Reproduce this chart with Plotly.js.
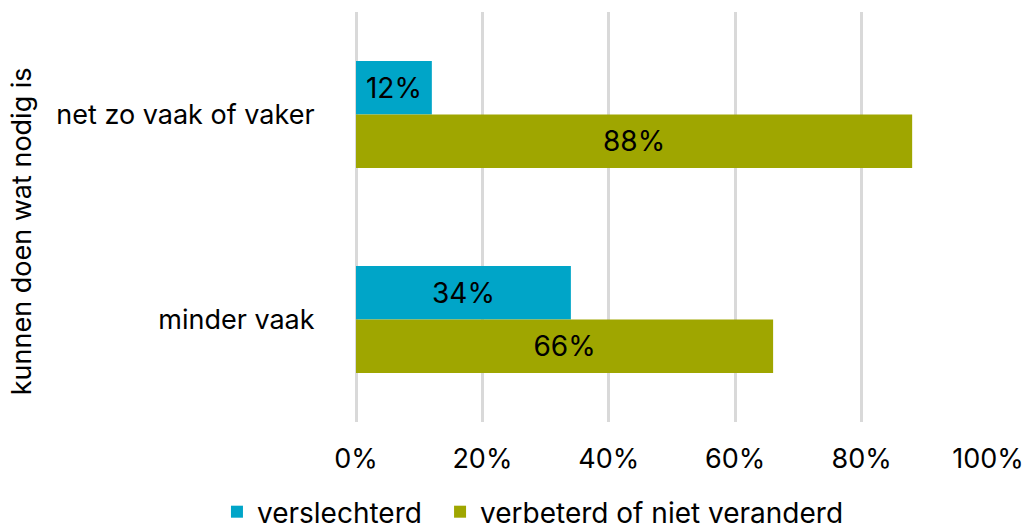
<!DOCTYPE html>
<html>
<head>
<meta charset="utf-8">
<script src="https://cdn.plot.ly/plotly-3.0.1.min.js"></script>
<style>html,body{margin:0;padding:0;background:#fff;}#chart{width:1030px;height:530px;}</style>
</head>
<body>
<div id="chart"></div>
<script>
const categories = ["net zo vaak of vaker", "minder vaak"];
const seriesNames = ["verslechterd", "verbeterd of niet veranderd"];
const verslechterd = [12, 34];
const verbeterd = [88, 66];
const xTicks = [0, 20, 40, 60, 80, 100];
const xTickLabels = ["0%", "20%", "40%", "60%", "80%", "100%"];
const yTitle = "kunnen doen wat nodig is";
const colors = ["#00A5C8", "#9FA600"];

const FONT = "Inter, 'Noto Sans', Arial, sans-serif";
const legendIds = ["legend", "legend2"];

const traces = [verslechterd, verbeterd].map((vals, i) => ({
  type: "bar",
  orientation: "h",
  name: seriesNames[i],
  legend: legendIds[i],
  y: categories,
  x: vals,
  marker: {color: colors[i]},
  text: vals.map(v => v + "%"),
  textposition: "inside",
  insidetextanchor: "middle",
  constraintext: "none",
  textfont: {family: FONT, size: 28, color: "#000"},
  hoverinfo: "none"
}));

const legendBase = {
  orientation: "h",
  yanchor: "middle",
  y: -0.2195,
  xanchor: "left",
  font: {family: FONT, size: 28, color: "#000"},
  itemclick: false, itemdoubleclick: false,
  bgcolor: "rgba(0,0,0,0)"
};

const layout = {
  width: 1030, height: 530,
  margin: {l: 356, r: 42, t: 12, b: 108, autoexpand: false},
  paper_bgcolor: "#fff", plot_bgcolor: "#fff",
  barmode: "group",
  bargap: 0.478,
  bargroupgap: 0,
  font: {family: FONT, color: "#000"},
  xaxis: {
    range: [0, 100],
    tickmode: "array",
    tickvals: xTicks,
    ticktext: xTickLabels,
    showgrid: true, gridcolor: "#D9D9D9", gridwidth: 3,
    zeroline: true, zerolinecolor: "#D9D9D9", zerolinewidth: 3,
    showline: false,
    ticks: "outside", ticklen: 13, tickcolor: "rgba(0,0,0,0)",
    tickfont: {family: FONT, size: 27, color: "#000"},
    fixedrange: true
  },
  yaxis: {
    autorange: "reversed",
    type: "category",
    showgrid: false, zeroline: false, showline: false,
    ticks: "outside", ticklen: 35, tickcolor: "rgba(0,0,0,0)",
    tickfont: {family: FONT, size: 27, color: "#000"},
    fixedrange: true
  },
  showlegend: true,
  legend: Object.assign({}, legendBase, {x: -0.22}),
  legend2: Object.assign({}, legendBase, {x: 0.133}),
  annotations: [{
    text: yTitle,
    xref: "paper", yref: "paper",
    x: -0.528, y: 0.466,
    xanchor: "center", yanchor: "middle",
    textangle: -90,
    showarrow: false,
    font: {family: FONT, size: 27, color: "#000"}
  }]
};

Plotly.newPlot("chart", traces, layout, {displayModeBar: false, staticPlot: true});
</script>
</body>
</html>
